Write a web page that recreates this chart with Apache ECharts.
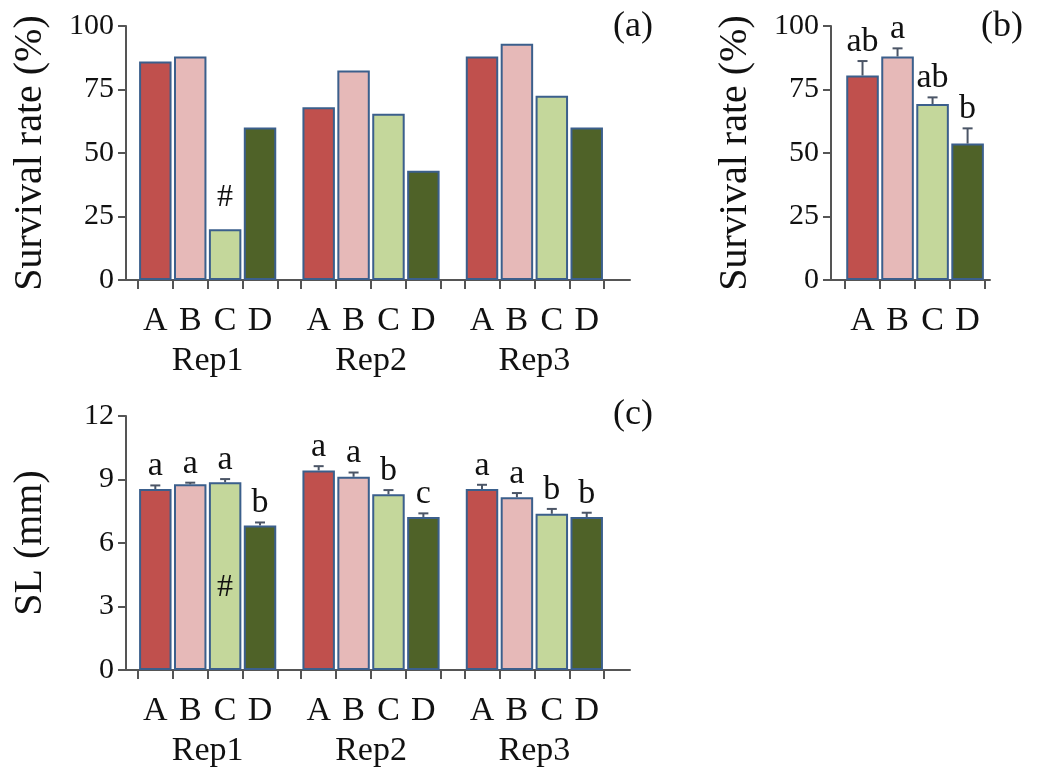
<!DOCTYPE html>
<html>
<head>
<meta charset="utf-8">
<title>Survival rate and SL</title>
<script src="https://cdn.jsdelivr.net/npm/echarts@6/dist/echarts.min.js"></script>
<style>
  html, body { margin: 0; padding: 0; background: #fff; }
  #main { width: 1038px; height: 768px; }
</style>
</head>
<body>
<div id="main"></div>
<script>
// data
var treatments = ['A', 'B', 'C', 'D'];
var reps = ['Rep1', 'Rep2', 'Rep3'];

// (a) survival rate per replicate
var survivalByRep = [
    [86, 88, 20, 60],
    [68, 82.5, 65.5, 43],
    [88, 93, 72.5, 60]
];
// (b) survival rate mean, error, letters
var survivalMean = [80.5, 88, 69.3, 53.7];
var survivalErr = [5.7, 3.2, 2.6, 6];
var survivalLetters = ['ab', 'a', 'ab', 'b'];
// (c) SL per replicate
var slByRep = [
    [8.55, 8.77, 8.87, 6.83],
    [9.43, 9.13, 8.3, 7.23],
    [8.55, 8.16, 7.38, 7.23]
];
var slErr = [
    [0.17, 0.08, 0.15, 0.14],
    [0.2, 0.2, 0.2, 0.17],
    [0.2, 0.2, 0.23, 0.2]
];
var slLetters = [
    ['a', 'a', 'a', 'b'],
    ['a', 'a', 'b', 'c'],
    ['a', 'a', 'b', 'b']
];
var survivalTicks = [0, 25, 50, 75, 100];
var slTicks = [0, 3, 6, 9, 12];
// the '#' mark: Rep1, treatment C
var flagRep = 0, flagTreatment = 2;

var colors = ['#c0504d', '#e6b9b8', '#c4d79b', '#4f6228'];
var BORDER = '#3b5f8c';
var AXIS = '#555';
var ERR = '#4b5566';
var FONT = '"Liberation Serif", "Times New Roman", serif';
var GAP = 0.68; // gap between replicate groups, in bar widths

function pos(g, i) { return g * (4 + GAP) + i + 0.5; }

// axis helpers
var edgeTicks = [], barCenters = [], groupCenters = [], letterAt = {}, repAt = {};
reps.forEach(function (r, g) {
    for (var k = 0; k <= 4; k++) edgeTicks.push(g * (4 + GAP) + k);
    treatments.forEach(function (t, i) {
        barCenters.push(pos(g, i));
        letterAt[pos(g, i).toFixed(2)] = t;
    });
    groupCenters.push(g * (4 + GAP) + 2);
    repAt[(g * (4 + GAP) + 2).toFixed(2)] = r;
});
var wideMax = 12 + 2 * GAP + 0.74;

function valueYAxis(grid, ticks, name) {
    return {
        type: 'value', gridIndex: grid,
        min: ticks[0], max: ticks[ticks.length - 1], interval: ticks[1] - ticks[0],
        name: name, nameLocation: 'middle', nameGap: 76,
        nameTextStyle: { fontSize: 40, fontFamily: FONT, color: '#111' },
        axisLine: { show: true, onZero: false, lineStyle: { color: AXIS, width: 2 } },
        axisTick: { show: true, length: 8, lineStyle: { color: AXIS, width: 2 } },
        axisLabel: { fontSize: 30, fontFamily: FONT, color: '#111', margin: 12 },
        splitLine: { show: false }
    };
}

function letterXAxis(grid, min, max, ticks, centers) {
    return {
        type: 'value', gridIndex: grid, position: 'bottom', min: min, max: max,
        axisLine: { show: true, onZero: false, lineStyle: { color: AXIS, width: 2 } },
        axisTick: { show: true, length: 9, customValues: ticks, lineStyle: { color: AXIS, width: 2 } },
        axisLabel: {
            customValues: centers, margin: 24, fontSize: 34, fontFamily: FONT, color: '#111',
            formatter: function (v) { return letterAt[v.toFixed(2)] || ''; }
        },
        splitLine: { show: false }
    };
}

function repXAxis(grid, min, max) {
    return {
        type: 'value', gridIndex: grid, position: 'bottom', min: min, max: max,
        axisLine: { show: false }, axisTick: { show: false },
        axisLabel: {
            customValues: groupCenters, margin: 64, fontSize: 34, fontFamily: FONT, color: '#111',
            formatter: function (v) { return repAt[v.toFixed(2)] || ''; }
        },
        splitLine: { show: false }
    };
}

function barItems(byRep, markPos, markOffset) {
    var items = [];
    byRep.forEach(function (row, g) {
        row.forEach(function (v, i) {
            var item = { value: [pos(g, i), v], itemStyle: { color: colors[i] } };
            if (g === flagRep && i === flagTreatment) {
                item.label = {
                    show: true, position: markPos, offset: markOffset, formatter: '#',
                    fontSize: 32, fontFamily: FONT, color: '#111', distance: 16
                };
            }
            items.push(item);
        });
    });
    return items;
}

function barSeries(x, y, data) {
    return {
        type: 'bar', xAxisIndex: x, yAxisIndex: y, data: data, barWidth: '93%',
        itemStyle: { borderColor: BORDER, borderWidth: 2 },
        label: { show: false }
    };
}

function errorSeries(x, y, data, letters) {
    return {
        type: 'custom', xAxisIndex: x, yAxisIndex: y, data: data, z: 5,
        encode: { x: 0, y: 1 },
        renderItem: function (params, api) {
            var cx = api.value(0), v = api.value(1), e = api.value(2);
            var base = api.coord([cx, v]);
            var top = api.coord([cx, v + e]);
            var half = 5;
            return {
                type: 'group',
                children: [
                    { type: 'line', shape: { x1: base[0], y1: base[1], x2: top[0], y2: top[1] },
                      style: { stroke: ERR, lineWidth: 2 } },
                    { type: 'line', shape: { x1: top[0] - half, y1: top[1], x2: top[0] + half, y2: top[1] },
                      style: { stroke: ERR, lineWidth: 2 } },
                    { type: 'text', x: top[0], y: top[1] - 2,
                      style: { text: letters[params.dataIndex], fontSize: 34, fontFamily: FONT,
                               fill: '#111', align: 'center', verticalAlign: 'bottom' } }
                ]
            };
        }
    };
}

var survivalB = survivalMean.map(function (v, i) {
    return { value: [i + 0.5, v], itemStyle: { color: colors[i] } };
});
var survivalBErr = survivalMean.map(function (v, i) { return [i + 0.5, v, survivalErr[i]]; });
var slErrData = [], slLetterList = [];
slByRep.forEach(function (row, g) {
    row.forEach(function (v, i) {
        slErrData.push([pos(g, i), v, slErr[g][i]]);
        slLetterList.push(slLetters[g][i]);
    });
});

var option = {
    backgroundColor: '#fff',
    animation: false,
    title: [
        { text: '(a)', left: 613, top: 9, padding: 0, textStyle: { fontSize: 36, fontWeight: 'normal', fontFamily: FONT, color: '#111' } },
        { text: '(b)', left: 981, top: 9, padding: 0, textStyle: { fontSize: 36, fontWeight: 'normal', fontFamily: FONT, color: '#111' } },
        { text: '(c)', left: 613, top: 397, padding: 0, textStyle: { fontSize: 36, fontWeight: 'normal', fontFamily: FONT, color: '#111' } }
    ],
    grid: [
        { left: 126, top: 26, width: 504, height: 254 },
        { left: 831, top: 26, width: 159, height: 254 },
        { left: 126, top: 416, width: 504, height: 254 }
    ],
    xAxis: [
        letterXAxis(0, -0.34, wideMax, edgeTicks, barCenters),
        repXAxis(0, -0.34, wideMax),
        letterXAxis(1, -0.4, 4.14, [0, 1, 2, 3, 4], [0.5, 1.5, 2.5, 3.5]),
        letterXAxis(2, -0.34, wideMax, edgeTicks, barCenters),
        repXAxis(2, -0.34, wideMax)
    ],
    yAxis: [
        valueYAxis(0, survivalTicks, 'Survival rate (%)'),
        valueYAxis(1, survivalTicks, 'Survival rate (%)'),
        valueYAxis(2, slTicks, 'SL (mm)')
    ],
    series: [
        barSeries(0, 0, barItems(survivalByRep, 'top', [0, 0])),
        barSeries(2, 1, survivalB),
        errorSeries(2, 1, survivalBErr, survivalLetters),
        barSeries(3, 2, barItems(slByRep, 'inside', [0, 11])),
        errorSeries(3, 2, slErrData, slLetterList)
    ]
};

var chart = echarts.init(document.getElementById('main'));
chart.setOption(option);
</script>
</body>
</html>
